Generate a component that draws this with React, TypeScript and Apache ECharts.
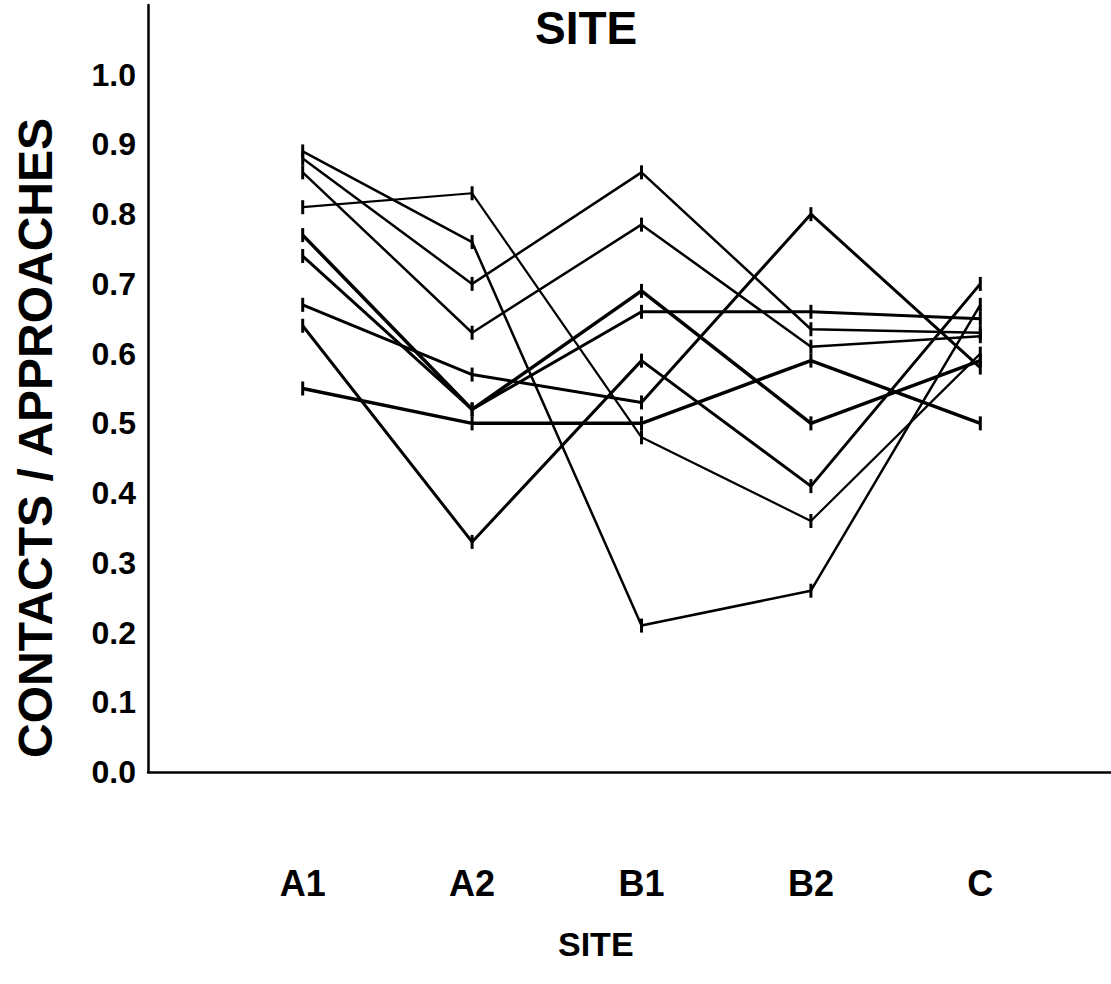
import React, { useEffect, useRef } from "react";
import * as echarts from "echarts";

const categories = ["A1", "A2", "B1", "B2", "C"];
const yTickMax = 1.1;
const yTickStep = 0.1;

const s1 = [0.89, 0.76, 0.21, 0.26, 0.67];
const s2 = [0.88, 0.7, 0.86, 0.635, 0.63];
const s3 = [0.86, 0.63, 0.785, 0.61, 0.625];
const s4 = [0.81, 0.83, 0.48, 0.36, 0.6];
const s5 = [0.77, 0.52, 0.69, 0.5, 0.59];
const s6 = [0.74, 0.52, 0.66, 0.66, 0.65];
const s7 = [0.67, 0.57, 0.53, 0.8, 0.58];
const s8 = [0.64, 0.33, 0.59, 0.41, 0.7];
const s9 = [0.55, 0.5, 0.5, 0.59, 0.5];

const seriesList = [s1, s2, s3, s4, s5, s6, s7, s8, s9];
const lineWidths = [2.5, 2.5, 2.5, 2.2, 3.5, 3, 3, 3, 3.5];

const FONT = "'Liberation Sans', Arial, Helvetica, sans-serif";

export default function App() {
  const ref = useRef<HTMLDivElement>(null);
  useEffect(() => {
    if (!ref.current) return;
    const chart = echarts.init(ref.current, null, { renderer: "svg" });
    const gridTop = 5;
    const gridBottom = 212;
    chart.setOption({
      animation: false,
      backgroundColor: "#ffffff",
      title: [
        {
          text: "SITE",
          left: 530,
          top: 0,
          textStyle: { fontFamily: FONT, fontWeight: "bold", fontSize: 46, color: "#000" },
        },
        {
          text: "SITE",
          left: 553,
          top: 922,
          textStyle: { fontFamily: FONT, fontWeight: "bold", fontSize: 34, color: "#000" },
        },
      ],
      grid: [
        { left: 218, right: 46, top: gridTop, bottom: gridBottom },
        { left: 148, right: 0, top: gridTop, bottom: gridBottom },
      ],
      xAxis: [
        {
          gridIndex: 0,
          type: "category",
          data: categories,
          boundaryGap: true,
          axisLine: { show: false },
          axisTick: { show: false },
          axisLabel: {
            margin: 93,
            fontFamily: FONT,
            fontWeight: "bold",
            fontSize: 36,
            color: "#000",
          },
        },
        {
          gridIndex: 1,
          type: "value",
          min: 0,
          max: 1,
          axisLine: { show: true, lineStyle: { color: "#000", width: 2.5 } },
          axisTick: { show: false },
          axisLabel: { show: false },
          splitLine: { show: false },
        },
      ],
      yAxis: [
        {
          gridIndex: 0,
          type: "value",
          min: 0,
          max: yTickMax,
          interval: yTickStep,
          show: false,
          splitLine: { show: false },
        },
        {
          gridIndex: 1,
          type: "value",
          min: 0,
          max: yTickMax,
          interval: yTickStep,
          axisLine: { show: true, lineStyle: { color: "#000", width: 2.5 } },
          axisTick: { show: false },
          splitLine: { show: false },
          axisLabel: {
            margin: 12,
            fontFamily: FONT,
            fontWeight: "bold",
            fontSize: 32,
            color: "#000",
            formatter: (v: number) => (v > 1.05 ? "" : v.toFixed(1)),
          },
        },
      ],
      graphic: [
        {
          type: "text",
          x: 35,
          y: 438,
          rotation: Math.PI / 2,
          style: {
            text: "CONTACTS / APPROACHES",
            fontFamily: FONT,
            fontWeight: "bold",
            fontSize: 48,
            fill: "#000",
            textAlign: "center",
            textVerticalAlign: "middle",
          },
        },
      ],
      series: seriesList.map((d, i) => ({
        type: "line",
        xAxisIndex: 0,
        yAxisIndex: 0,
        data: d,
        symbol: "rect",
        symbolSize: [3, 14],
        itemStyle: { color: "#000" },
        lineStyle: { color: "#000", width: lineWidths[i] },
        z: 2,
      })),
    });
    return () => chart.dispose();
  }, []);
  return (
    <div
      ref={ref}
      style={{ position: "fixed", left: 0, top: 0, width: 1111, height: 984 }}
    />
  );
}
